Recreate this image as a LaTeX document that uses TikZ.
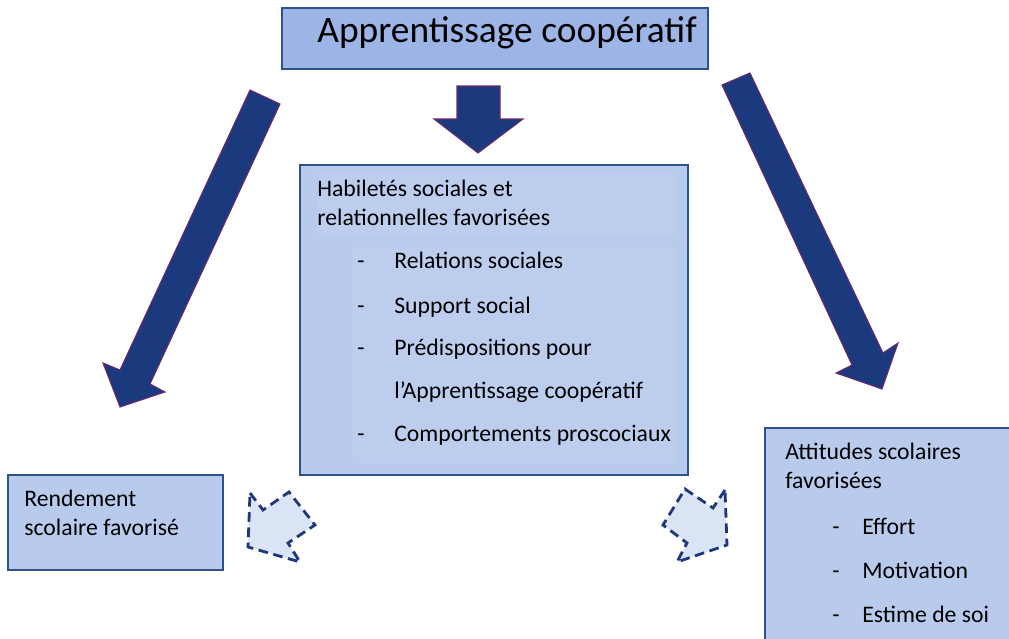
\documentclass[tikz,border=0pt]{standalone}
\usepackage{fontspec}
\setmainfont{Carlito}
\usetikzlibrary{positioning}
\definecolor{boxblue}{RGB}{47,82,143}
\definecolor{titlefill}{RGB}{156,180,230}
\definecolor{boxfill}{RGB}{185,203,237}
\definecolor{innerfill}{RGB}{188,205,238}
\definecolor{arrowblue}{RGB}{26,58,125}
\definecolor{arrowedge}{RGB}{110,40,110}
\definecolor{dashfill}{RGB}{219,228,244}
\definecolor{dashblue}{RGB}{30,56,122}
\tikzstyle{box} = [draw=boxblue, line width=1pt]
\tikzstyle{bigarrow} = [fill=arrowblue, draw=arrowedge, line width=0.6pt]
\tikzstyle{dasharrow} = [fill=dashfill, draw=dashblue, line width=1.6pt, dash pattern=on 5.5pt off 3.2pt]
\tikzstyle{txt} = [anchor=base west, inner sep=0pt, font=\fontsize{13.5}{16}\selectfont]
\tikzstyle{titletxt} = [anchor=base west, inner sep=0pt, font=\fontsize{21.3}{25}\selectfont]

\begin{document}
\begin{tikzpicture}[x=0.02cm, y=-0.02cm]
      \useasboundingbox (0,0) rectangle (1009,639);
      \clip (0,0) rectangle (1009,639);
      % boxes
      \draw[box, fill=titlefill] (282,8) rectangle (708,69);
      \draw[box, fill=boxfill] (300,165) rectangle (688,475);
      \fill[innerfill] (318,172) rectangle (676,236);
      \fill[innerfill] (353,247) rectangle (676,463);
      \draw[box, fill=boxfill] (8,475) rectangle (223,570);
      \draw[box, fill=boxfill] (765,428) rectangle (1030,660);
      % big arrows
      \draw[bigarrow] (457,86)--(500,86)--(500,119)--(523,119)--(478,153)--(434,119)--(457,119)--cycle;
      \draw[bigarrow] (250,90)--(280,104)--(150,384)--(165,392)--(120,407)--(103,363)--(120,370)--cycle;
      \draw[bigarrow] (750,73)--(722,85)--(852,365)--(836,373)--(882,389)--(898,343)--(883,353)--cycle;
      % dashed arrows
      \draw[dasharrow] (250,493)--(263,510)--(289,492)--(315,525)--(288,543)--(300,562)--(248,547)--cycle;
      \draw[dasharrow] (725,490)--(713,508)--(685,489)--(663,525)--(687,543)--(677,562)--(727,545)--cycle;
      % texts
      \node[titletxt] (titre) at (317,43) {Apprentissage coopératif};
      \node[txt] (hab1) at (317,196) {Habiletés sociales et};
      \node[txt] (hab2) at (317,225) {relationnelles favorisées};
      \node[txt] (d1) at (357,268) {-};
      \node[txt] (i1) at (394,268) {Relations sociales};
      \node[txt] (d2) at (357,313) {-};
      \node[txt] (i2) at (394,313) {Support social};
      \node[txt] (d3) at (357,355) {-};
      \node[txt] (i3) at (394,355) {Prédispositions pour};
      \node[txt] (i3b) at (394,398) {l’Apprentissage coopératif};
      \node[txt] (d4) at (357,441) {-};
      \node[txt] (i4) at (394,441) {Comportements proscociaux};
      \node[txt] (ren1) at (24,506) {Rendement};
      \node[txt] (ren2) at (24,535) {scolaire favorisé};
      \node[txt] (att1) at (785,459) {Attitudes scolaires};
      \node[txt] (att2) at (785,488) {favorisées};
      \node[txt] (d5) at (832,534) {-};
      \node[txt] (e1) at (862,534) {Effort};
      \node[txt] (d6) at (832,578) {-};
      \node[txt] (e2) at (862,578) {Motivation};
      \node[txt] (d7) at (832,622) {-};
      \node[txt] (e3) at (862,622) {Estime de soi};
\end{tikzpicture}
\end{document}
